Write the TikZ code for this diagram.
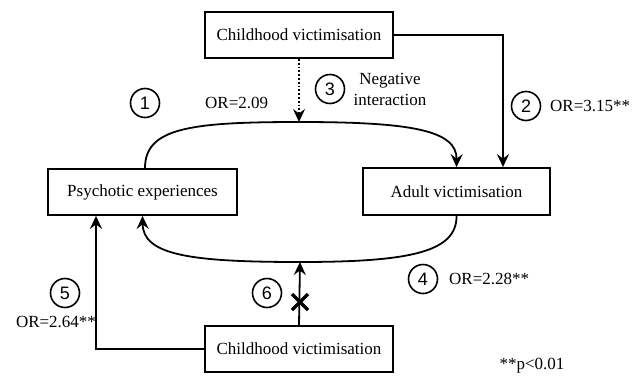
\documentclass[tikz,border=0pt]{standalone}
\usepackage{fontspec}
\setmainfont{Liberation Serif}
\newfontfamily\numfont{Liberation Sans}
\usetikzlibrary{arrows.meta,calc}
\begin{document}
\begin{tikzpicture}[x=1pt,y=-1pt,
  box/.style={draw,line width=1.8pt,minimum width=188pt,minimum height=46pt,inner sep=0pt,font=\fontsize{17}{18}\selectfont},
  conn/.style={line width=1.8pt,-{Stealth[length=13pt,width=12pt,inset=4.5pt]}},
  numc/.style={draw,circle,line width=1.6pt,minimum size=29pt,inner sep=0pt,font=\numfont\fontsize{18}{18}\selectfont},
  lbl/.style={font=\fontsize{17}{21}\selectfont,inner sep=0pt}]
\useasboundingbox (0,0) rectangle (632,378);
\node[box] (top) at (299,35) {Childhood victimisation};
\node[box,minimum width=189pt] (psy) at (142.5,192) {Psychotic experiences};
\node[box,minimum width=187pt,minimum height=47pt] (adu) at (456.5,191.5) {Adult victimisation};
\node[box] (bot) at (299,349) {Childhood victimisation};
\coordinate (tp) at (299,122);
\coordinate (bt) at (300,262);
% top curve (1)
\draw[conn] ([xshift=2.5pt]psy.north) .. controls (145,128) and (190,122) .. (tp) .. controls (410,122) and (457,130) .. (adu.north);
% dotted (3)
\draw[conn,dotted] (top.south) -- (tp);
% arrow (2)
\draw[conn] (top.east) -| ([xshift=46.5pt]adu.north);
% bottom curve (4)
\draw[conn] (adu.south) .. controls (457,252) and (410,262) .. (bt) .. controls (190,262) and (143,255) .. (psy.south);
% arrow (6)
\draw[conn] (bot.north) -- (bt);
\node[inner sep=0pt] (x6) at (300,302) {};
\draw[line width=3.5pt] ([shift={(-8,-8)}]x6.center) -- ([shift={(8,8)}]x6.center);
\draw[line width=3.5pt] ([shift={(-8,8)}]x6.center) -- ([shift={(8,-8)}]x6.center);
% arrow (5)
\draw[conn] (bot.west) -| ([xshift=-46.5pt]psy.south);
% labels
\node[numc] (c1) at (145,103) {1};
\node[lbl,anchor=west] (l1) at (205,103) {OR=2.09};
\node[numc] (c3) at (330,89) {3};
\node[lbl,align=center] (l3) at (390,89) {Negative\\interaction};
\node[numc] (c2) at (526,106) {2};
\node[lbl,anchor=west] (l2) at (550,106) {OR=3.15**};
\node[numc] (c4) at (423,279) {4};
\node[lbl,anchor=west] (l4) at (449,279) {OR=2.28**};
\node[numc] (c5) at (65,293) {5};
\node[lbl] (l5) at (56,322) {OR=2.64**};
\node[numc] (c6) at (267,293) {6};
\node[lbl] (pp) at (532,366) {**p<0.01};
\end{tikzpicture}
\end{document}
